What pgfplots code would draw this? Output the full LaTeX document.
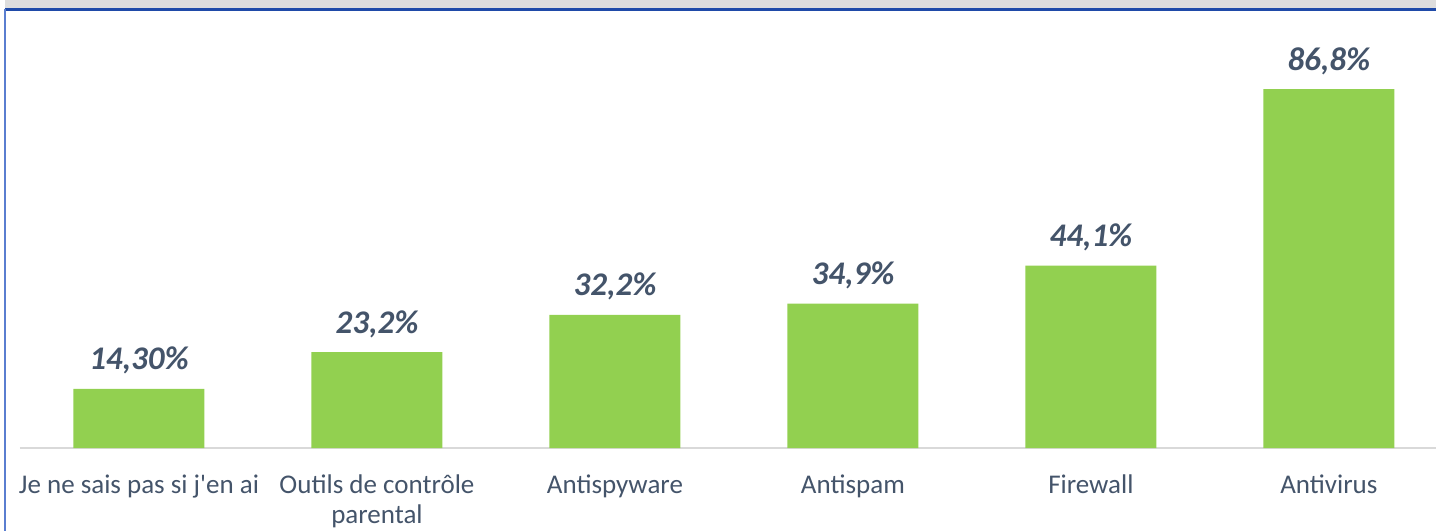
\documentclass[border=0pt]{standalone}
\usepackage{fontspec}
\setmainfont{Carlito}
\usepackage{pgfplots}
\pgfplotsset{compat=1.18}
\definecolor{bargreen}{HTML}{92D050}
\definecolor{slate}{HTML}{44546A}
\definecolor{frameblue}{HTML}{1F4AA8}
\definecolor{edgeblue}{HTML}{5A7ED0}
\definecolor{bandgray}{HTML}{DDDDDD}
\definecolor{basegray}{HTML}{D9D9D9}

\begin{document}
\begin{tikzpicture}
    \path[use as bounding box] (-20pt,-83pt) rectangle (1416pt,448pt);
    \fill[bandgray] (-15pt,440pt) rectangle (1416pt,448pt);
    \draw[frameblue, line width=2.5pt] (-15pt,438.5pt) -- (1416pt,438.5pt);
    \draw[edgeblue, line width=1.5pt] (-15pt,439pt) -- (-15pt,-83pt);
    \begin{axis}[
        scale only axis,
        width  = 1416pt,
        height = 428pt,
        xmin=-0.5, xmax=5.45,
        ymin=0, ymax=103.5,
        ybar,
        bar width=131pt,
        hide y axis,
        axis x line*=bottom,
        x axis line style={draw=basegray, line width=1.5pt, -},
        xtick=data,
        xtick style={draw=none},
        xticklabels={Je ne sais pas si j\textquotesingle en ai, {Outils de contrôle\\parental}, Antispyware, Antispam, Firewall, Antivirus},
        xticklabel style={align=center, font=\fontsize{27}{30}\selectfont, text=slate, anchor=north, inner sep=0pt, yshift=-20pt},
        typeset ticklabels with strut,
        clip=false,
        point meta=explicit symbolic,
        nodes near coords,
        nodes near coords style={font=\fontsize{33}{36}\selectfont\bfseries\itshape, text=slate, anchor=base, inner sep=0pt, yshift=19pt},
    ]
    \addplot[fill=bargreen, draw=none]
        coordinates {(0,14.3) [14,30\%] (1,23.2) [23,2\%] (2,32.2) [32,2\%] (3,34.9) [34,9\%] (4,44.1) [44,1\%] (5,86.8) [86,8\%]};
    \end{axis}
\end{tikzpicture}
\end{document}
